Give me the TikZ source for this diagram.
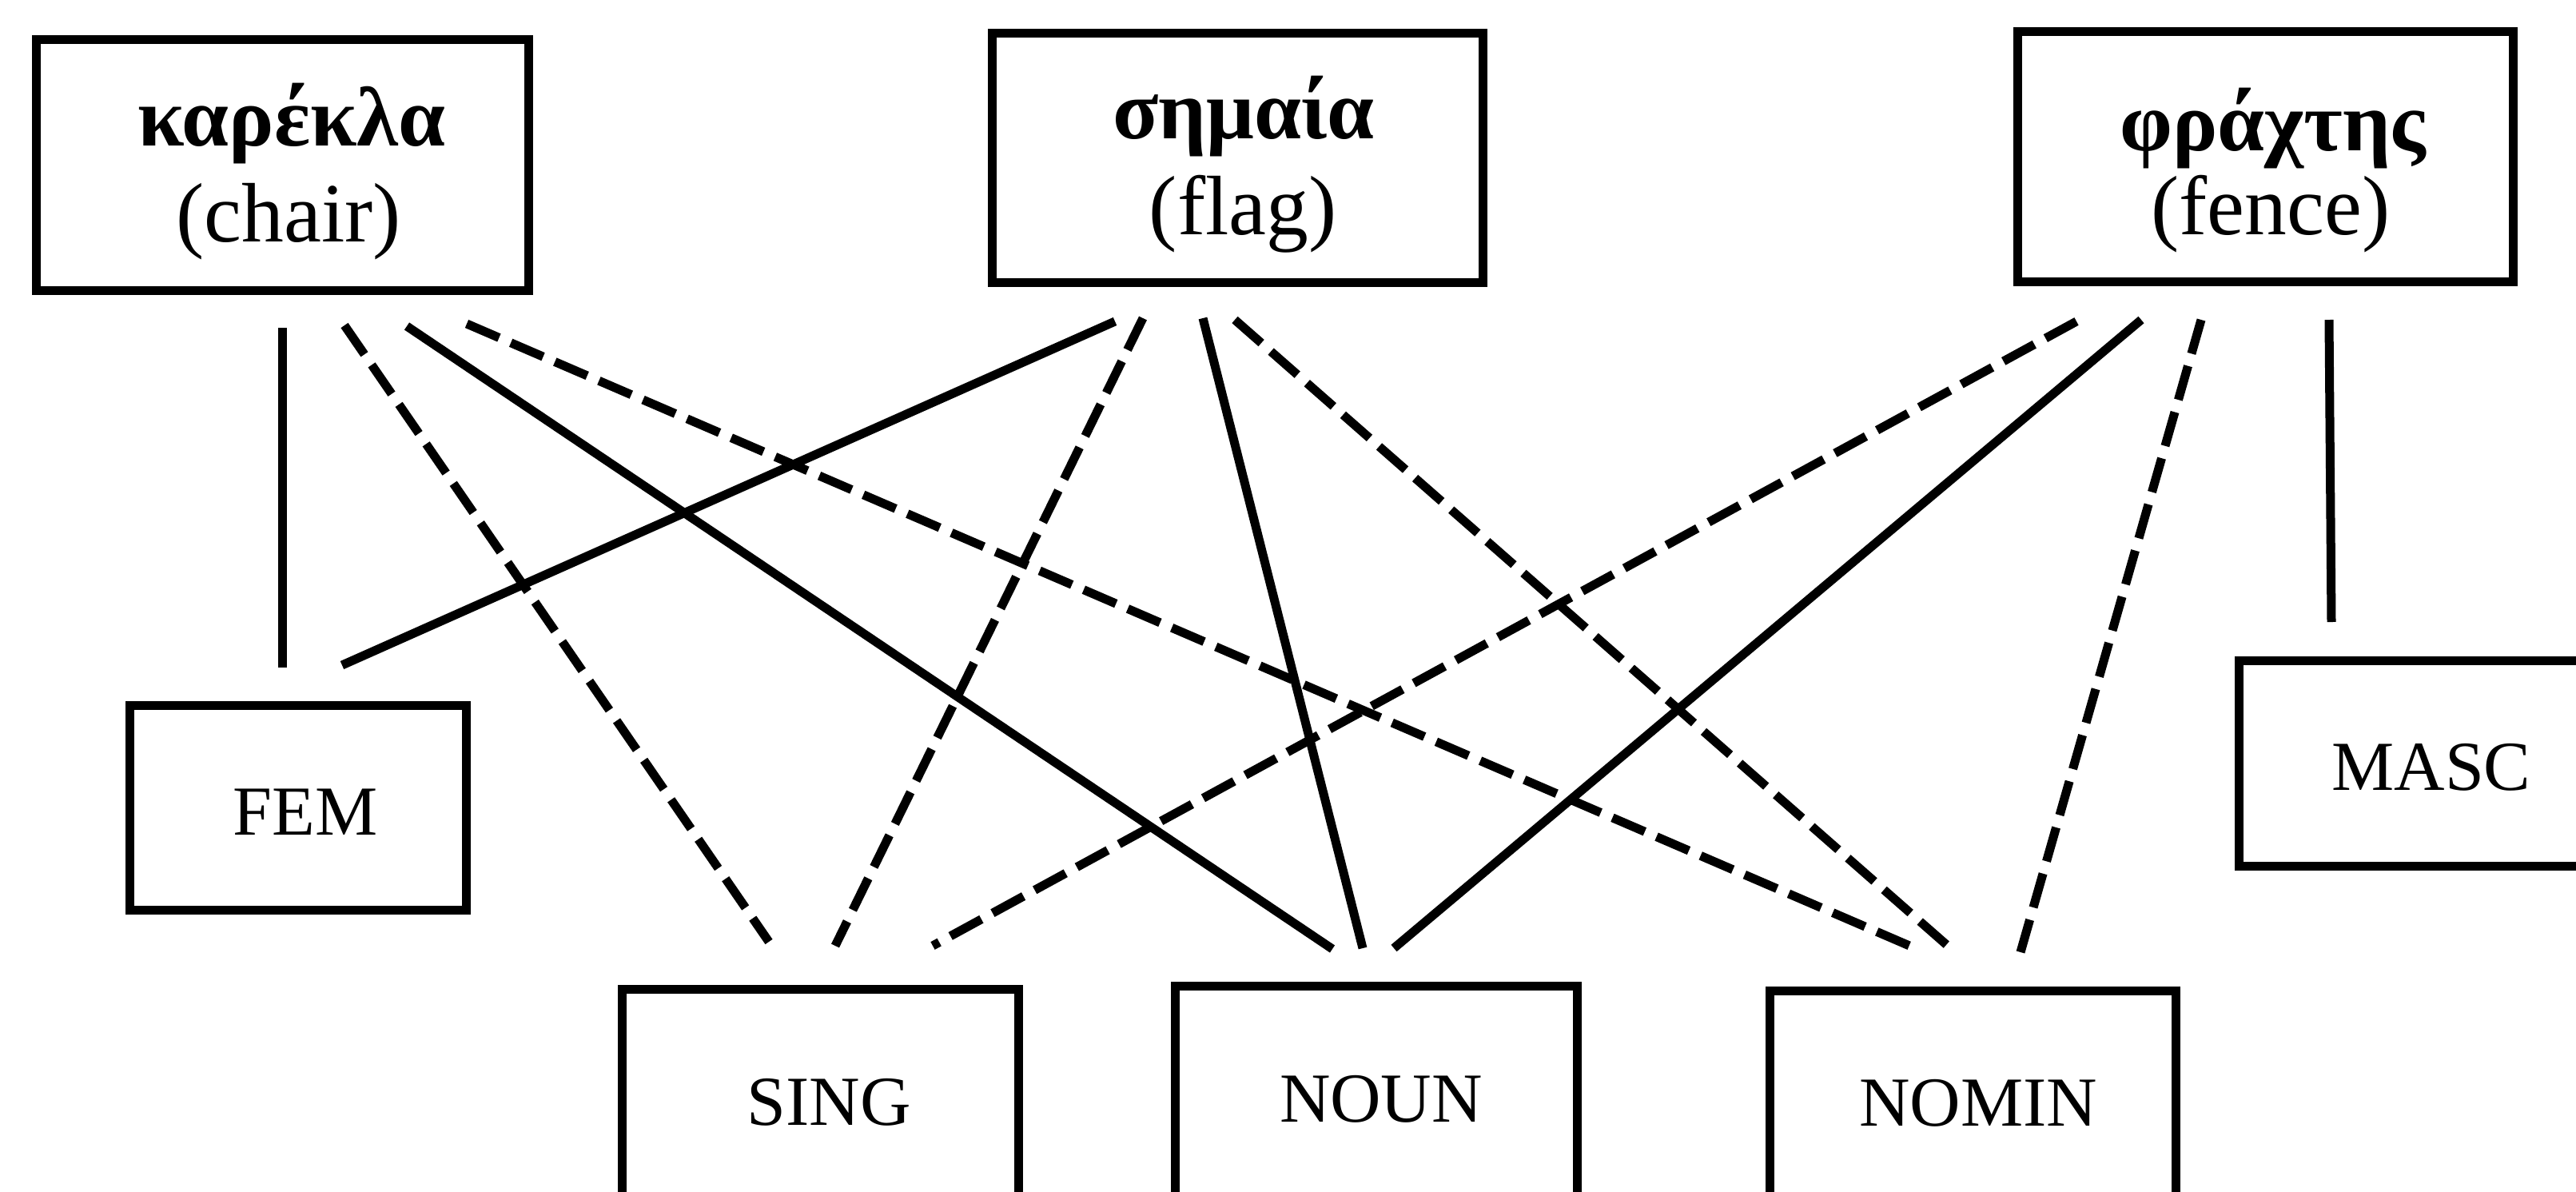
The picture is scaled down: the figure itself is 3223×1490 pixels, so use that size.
\documentclass[tikz,border=0pt]{standalone}
\usepackage{fontspec}
\setmainfont{Liberation Serif}
\begin{document}
\begin{tikzpicture}[x=0.01cm,y=-0.01cm,
  box/.style={draw, line width=0.11cm, rectangle, inner sep=0pt},
  word/.style={anchor=base, inner sep=0pt, font=\fontsize{30}{36}\selectfont\bfseries},
  gloss/.style={anchor=base, inner sep=0pt, font=\fontsize{30}{36}\selectfont},
  feat/.style={anchor=base, inner sep=0pt, font=\fontsize{25}{30}\selectfont},
  link/.style={line width=0.11cm},
  dlink/.style={link, dash pattern=on 0.44cm off 0.16cm}]
\useasboundingbox (0,0) rectangle (3223,1490);

% word boxes
\node[box, minimum width=6.15cm, minimum height=3.13cm] (kar) at (353.5,206.5) {};
\node[box, minimum width=6.13cm, minimum height=3.11cm] (sim) at (1548.5,197.5) {};
\node[box, minimum width=6.19cm, minimum height=3.12cm] (fra) at (2834.5,196) {};
\node[word]  (karW) at (365,182) {καρέκλα};
\node[gloss] (karG) at (361,302) {(chair)};
\node[word]  (simW) at (1556,173) {σημαία};
\node[gloss] (simG) at (1555,293) {(flag)};
\node[word]  (fraW) at (2844,188) {φράχτης};
\node[gloss] (fraG) at (2841,293) {(fence)};

% feature boxes
\node[box, minimum width=4.20cm, minimum height=2.55cm] (fem)  at (373,1010.5) {};
\node[box, minimum width=4.80cm, minimum height=2.56cm] (masc) at (3042,955) {};
\node[box, minimum width=4.95cm, minimum height=2.70cm] (sing) at (1026.5,1373) {};
\node[box, minimum width=5.02cm, minimum height=2.70cm] (noun) at (1722,1369) {};
\node[box, minimum width=5.07cm, minimum height=2.70cm] (nomin) at (2468.5,1375) {};
\node[feat] (femT)   at (382,1044)  {FEM};
\node[feat] (mascT)  at (3042,988)  {MASC};
\node[feat] (singT)  at (1037,1407) {SING};
\node[feat] (nounT)  at (1728,1403) {NOUN};
\node[feat] (nominT) at (2475,1408) {NOMIN};

% connector ends below the word boxes
\coordinate (k1) at (353,410);
\coordinate (k2) at (431,407);
\coordinate (k3) at (509,408);
\coordinate (k4) at (584,405);
\coordinate (s1) at (1395,402);
\coordinate (s2) at (1430,398);
\coordinate (s3) at (1505,398);
\coordinate (s4) at (1545,400);
\coordinate (f1) at (2598,402);
\coordinate (f2) at (2679,400);
\coordinate (f3) at (2754,400);
\coordinate (f4) at (2914,400);

% connector ends above the feature boxes
\coordinate (femA)  at (353,835);
\coordinate (femB)  at (428,832);
\coordinate (mascA) at (2917,778);
\coordinate (singA) at (962,1178);
\coordinate (singB) at (1045,1183);
\coordinate (singC) at (1167,1183);
\coordinate (nounA) at (1667,1187);
\coordinate (nounB) at (1705,1186);
\coordinate (nounC) at (1744,1186);
\coordinate (nomA)  at (2396,1186);
\coordinate (nomB)  at (2438,1184);
\coordinate (nomC)  at (2528,1191);

% connectors
\draw[link]  (k1) -- (femA);
\draw[dlink] (k2) -- (singA);
\draw[link]  (k3) -- (nounA);
\draw[dlink] (k4) -- (nomA);
\draw[link]  (s1) -- (femB);
\draw[dlink] (s2) -- (singB);
\draw[link]  (s3) -- (nounB);
\draw[dlink] (s4) -- (nomB);
\draw[dlink] (f1) -- (singC);
\draw[link]  (f2) -- (nounC);
\draw[dlink] (f3) -- (nomC);
\draw[link]  (f4) -- (mascA);
\end{tikzpicture}
\end{document}
